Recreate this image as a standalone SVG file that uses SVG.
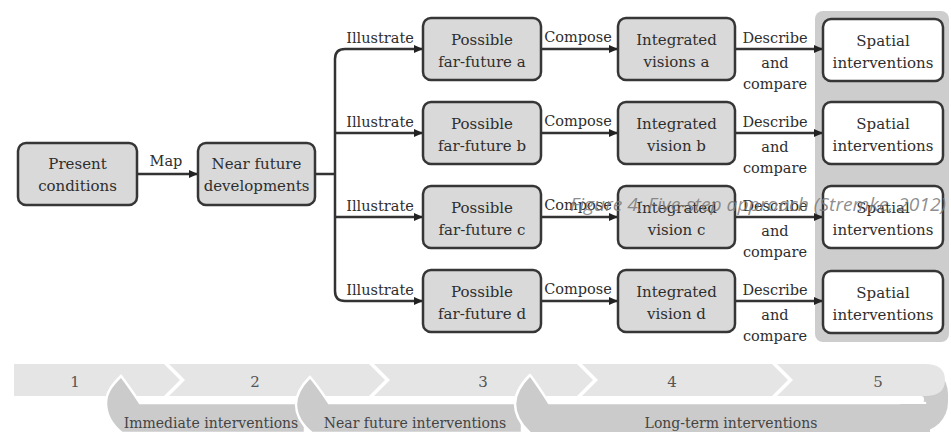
<svg xmlns="http://www.w3.org/2000/svg" width="951" height="432" viewBox="0 0 951 432">
<defs>
<style>
.box{fill:#d9d9d9;stroke:#363636;stroke-width:2.5}
.wbox{fill:#ffffff;stroke:#363636;stroke-width:2.5}
.t{font-family:"DejaVu Serif",serif;font-size:15px;fill:#2e2e2e;text-anchor:middle}
.lbl{font-family:"DejaVu Serif",serif;font-size:14.5px;fill:#2e2e2e;text-anchor:middle}
.con{fill:none;stroke:#333;stroke-width:2.5}
.num{font-family:"DejaVu Serif",serif;font-size:15px;fill:#555;text-anchor:middle}
.bt{font-family:"DejaVu Serif",serif;font-size:14px;fill:#444;text-anchor:middle}
.top{fill:#e5e5e5}
.hook{fill:#cbcbcb;stroke:#ffffff;stroke-width:2.5}
</style>
<marker id="ah" markerUnits="userSpaceOnUse" markerWidth="9" markerHeight="8" refX="9" refY="4" orient="auto">
<path d="M0,0 L9,4 L0,8 Z" fill="#222"/>
</marker>
</defs>
<rect width="951" height="432" fill="#ffffff"/>

<rect id="panel" x="815" y="11" width="134" height="331" rx="8" fill="#cdcdcd"/>

<g id="connectors">
<path class="con" d="M137,174 H198" marker-end="url(#ah)"/>
<path class="con" d="M315,174 H335"/>
<path class="con" d="M335,174 V59 Q335,49 345,49 H423" marker-end="url(#ah)"/>
<path class="con" d="M335,133 H423" marker-end="url(#ah)"/>
<path class="con" d="M335,217 H423" marker-end="url(#ah)"/>
<path class="con" d="M335,174 V291 Q335,301 345,301 H423" marker-end="url(#ah)"/>
<path class="con" d="M541,49 H618" marker-end="url(#ah)"/>
<path class="con" d="M541,133 H618" marker-end="url(#ah)"/>
<path class="con" d="M541,217 H618" marker-end="url(#ah)"/>
<path class="con" d="M541,301 H618" marker-end="url(#ah)"/>
<path class="con" d="M735,49 H823" marker-end="url(#ah)"/>
<path class="con" d="M735,133 H823" marker-end="url(#ah)"/>
<path class="con" d="M735,217 H823" marker-end="url(#ah)"/>
<path class="con" d="M735,301 H823" marker-end="url(#ah)"/>
<text class="lbl" x="166" y="166">Map</text>
<text class="lbl" x="380" y="43">Illustrate</text>
<text class="lbl" x="380" y="127">Illustrate</text>
<text class="lbl" x="380" y="211">Illustrate</text>
<text class="lbl" x="380" y="295">Illustrate</text>
<text class="lbl" x="578" y="42">Compose</text>
<text class="lbl" x="578" y="126">Compose</text>
<text class="lbl" x="578" y="210">Compose</text>
<text class="lbl" x="578" y="294">Compose</text>
<g>
<text class="lbl" x="775" y="43">Describe</text>
<text class="lbl" x="775" y="68">and</text>
<text class="lbl" x="775" y="89">compare</text>
</g>
<g>
<text class="lbl" x="775" y="127">Describe</text>
<text class="lbl" x="775" y="152">and</text>
<text class="lbl" x="775" y="173">compare</text>
</g>
<g>
<text class="lbl" x="775" y="211">Describe</text>
<text class="lbl" x="775" y="236">and</text>
<text class="lbl" x="775" y="257">compare</text>
</g>
<g>
<text class="lbl" x="775" y="295">Describe</text>
<text class="lbl" x="775" y="320">and</text>
<text class="lbl" x="775" y="341">compare</text>
</g>
</g>

<g id="present">
<rect class="box" x="18" y="143" width="119" height="62" rx="8"/>
<text class="t" x="77.5" y="169">Present</text>
<text class="t" x="77.5" y="191">conditions</text>
</g>
<g id="near-future">
<rect class="box" x="198" y="143" width="117" height="62" rx="8"/>
<text class="t" x="256.5" y="169">Near future</text>
<text class="t" x="256.5" y="191">developments</text>
</g>

<g id="possible-a">
<rect class="box" x="423" y="18" width="118" height="62" rx="8"/>
<text class="t" x="482" y="45">Possible</text>
<text class="t" x="482" y="67">far-future a</text>
</g>
<g id="possible-b">
<rect class="box" x="423" y="102" width="118" height="62" rx="8"/>
<text class="t" x="482" y="129">Possible</text>
<text class="t" x="482" y="151">far-future b</text>
</g>
<g id="possible-c">
<rect class="box" x="423" y="186" width="118" height="62" rx="8"/>
<text class="t" x="482" y="213">Possible</text>
<text class="t" x="482" y="235">far-future c</text>
</g>
<g id="possible-d">
<rect class="box" x="423" y="270" width="118" height="62" rx="8"/>
<text class="t" x="482" y="297">Possible</text>
<text class="t" x="482" y="319">far-future d</text>
</g>

<g id="integrated-a">
<rect class="box" x="618" y="18" width="117" height="62" rx="8"/>
<text class="t" x="676.5" y="45">Integrated</text>
<text class="t" x="676.5" y="67">visions a</text>
</g>
<g id="integrated-b">
<rect class="box" x="618" y="102" width="117" height="62" rx="8"/>
<text class="t" x="676.5" y="129">Integrated</text>
<text class="t" x="676.5" y="151">vision b</text>
</g>
<g id="integrated-c">
<rect class="box" x="618" y="186" width="117" height="62" rx="8"/>
<text class="t" x="676.5" y="213">Integrated</text>
<text class="t" x="676.5" y="235">vision c</text>
</g>
<g id="integrated-d">
<rect class="box" x="618" y="270" width="117" height="62" rx="8"/>
<text class="t" x="676.5" y="297">Integrated</text>
<text class="t" x="676.5" y="319">vision d</text>
</g>

<g id="spatial-a">
<rect class="wbox" x="823" y="19" width="120" height="62" rx="8"/>
<text class="t" x="883" y="46">Spatial</text>
<text class="t" x="883" y="68">interventions</text>
</g>
<g id="spatial-b">
<rect class="wbox" x="823" y="102" width="120" height="62" rx="8"/>
<text class="t" x="883" y="129">Spatial</text>
<text class="t" x="883" y="151">interventions</text>
</g>
<g id="spatial-c">
<rect class="wbox" x="823" y="186" width="120" height="62" rx="8"/>
<text class="t" x="883" y="213">Spatial</text>
<text class="t" x="883" y="235">interventions</text>
</g>
<g id="spatial-d">
<rect class="wbox" x="823" y="271" width="120" height="62" rx="8"/>
<text class="t" x="883" y="298">Spatial</text>
<text class="t" x="883" y="320">interventions</text>
</g>

<g id="timeline">
<rect x="880" y="364" width="68" height="68" rx="30" fill="#cbcbcb"/>
<path class="top" d="M14,364 L164,364 L180,380 L164,396 L14,396 Z"/>
<path class="top" d="M169,364 L369,364 L385,380 L369,396 L169,396 L185,380 Z"/>
<path class="top" d="M374,364 L577,364 L593,380 L577,396 L374,396 L390,380 Z"/>
<path class="top" d="M582,364 L772,364 L788,380 L772,396 L582,396 L598,380 Z"/>
<path class="top" d="M777,364 L925,364 Q945,364 945,380 Q945,396 925,396 L777,396 L793,380 Z"/>
<rect x="540" y="396" width="384" height="7" rx="3" fill="#ffffff"/>
<path class="hook" d="M121,376 C113,384 106,392 106,403 C106,415 112,425 122,433 L305,433 L305,403 L140,403 C134,394 128,385 121,376 Z"/>
<path class="hook" d="M310,377 C302,385 296,393 296,404 C296,416 302,425 312,433 L522,433 L522,403 L329,403 C323,394 317,385 310,377 Z"/>
<path class="hook" d="M530,375 C521,384 515,393 515,404 C515,416 521,425 531,434 L925,434 L925,403 L549,403 C543,394 537,384 530,375 Z" stroke-linejoin="round"/>
<rect x="900" y="404" width="30" height="30" fill="#cbcbcb"/>
<text class="num" x="75" y="387">1</text>
<text class="num" x="255" y="387">2</text>
<text class="num" x="483" y="387">3</text>
<text class="num" x="672" y="387">4</text>
<text class="num" x="878" y="387">5</text>
<text class="bt" x="211" y="428">Immediate interventions</text>
<text class="bt" x="415" y="428">Near future interventions</text>
<text class="bt" x="731" y="428">Long-term interventions</text>
</g>

<text x="570" y="211" textLength="376" lengthAdjust="spacingAndGlyphs" font-family="'Open Sans',sans-serif" font-style="italic" font-size="18" fill="#7a7a7a" fill-opacity="0.85">Figure 4: Five-step approach (Stremke, 2012)</text>
</svg>
